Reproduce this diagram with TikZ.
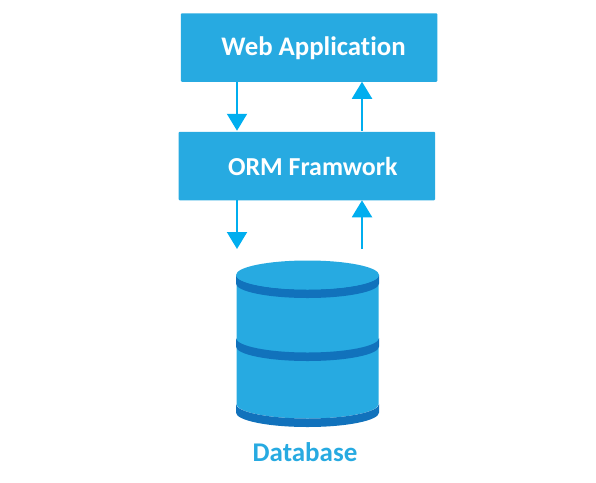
\documentclass[tikz,border=0pt]{standalone}
\usepackage{fontspec}
\setmainfont[Ligatures=NoCommon]{Carlito}
\usepackage{tikz}
\usetikzlibrary{arrows.meta}
\definecolor{boxblue}{HTML}{27AAE1}
\definecolor{arrowblue}{HTML}{00AEEF}
\definecolor{bandblue}{HTML}{1172BC}

\begin{document}
\begin{tikzpicture}[
  x=1pt,y=-1pt,
  layerbox/.style={fill=boxblue,rounded corners=1pt,text=white,outer sep=0pt,inner sep=0pt,
    minimum height=68.5pt,text height=20pt,font=\fontsize{26.8}{30}\selectfont\bfseries},
  link/.style={arrowblue,line width=2pt,-{Triangle[length=17pt,width=20pt]}}
]
  \useasboundingbox (0,0) rectangle (596,482);
  % Application layers
  \node[layerbox,minimum width=256.5pt,text depth=5pt] (web) at (309,47.5) {\hspace{9pt}Web Application};
  \node[layerbox,minimum width=256.5pt,text depth=2pt,font=\fontsize{25.9}{30}\selectfont\bfseries] (orm) at (306.8,166) {\hspace{12pt}ORM Framwork};

  \coordinate (left) at (237,249);
  \coordinate (right) at (362,249);

  \draw[link] (web.south -| left) -- ([yshift=1pt]orm.north -| left);
  \draw[link] ([yshift=1pt]orm.north -| right) -- (web.south -| right);
  \draw[link] (orm.south -| left) -- (left);
  \draw[link] (right) -- (orm.south -| right);

  % Database cylinder
  \fill[boxblue] (236.5,275) -- (236.5,404) arc[start angle=180,end angle=360,x radius=71pt,y radius=14.5pt]
    -- (378.5,275) -- cycle;
  \foreach \y in {275,338,404} {
    \fill[bandblue] (236,\y) arc[start angle=180,end angle=360,x radius=71.5pt,y radius=14.5pt]
      -- ++(0,8.5) arc[start angle=360,end angle=180,x radius=71.5pt,y radius=14.5pt] -- cycle;
  }
  \fill[boxblue] (307.5,275) ellipse[x radius=71.5pt,y radius=14.5pt];

  \node[text=boxblue,inner sep=0pt,font=\fontsize{27}{30}\selectfont\bfseries] (db) at (305,452) {Database};
\end{tikzpicture}
\end{document}
